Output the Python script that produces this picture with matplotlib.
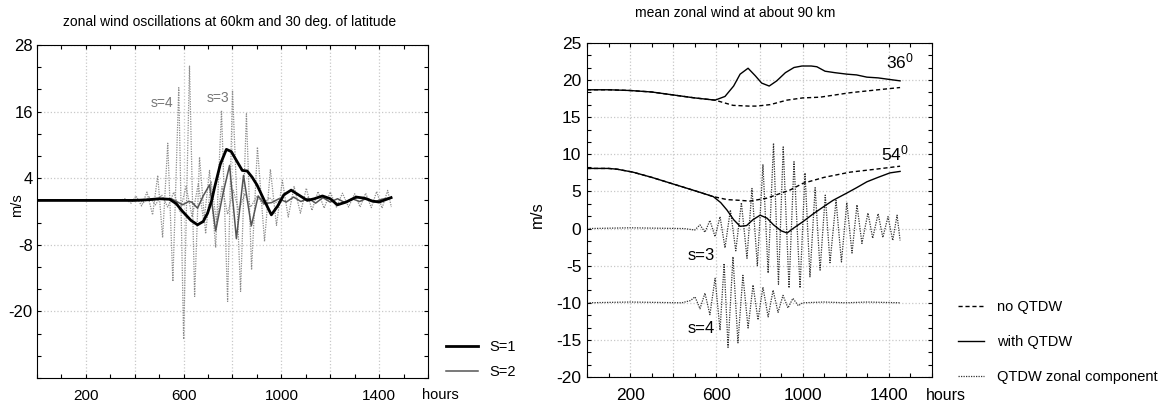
import numpy as np
import matplotlib.pyplot as plt
from matplotlib.ticker import MultipleLocator, FixedLocator, FixedFormatter
from matplotlib.lines import Line2D

# ---- left panel: zonal wind oscillations at 60 km, 30 deg (m/s vs hours)
s1_t = [0, 100, 200, 300, 400, 450, 500, 543, 570, 596, 630, 657, 680, 698, 715, 727,
        750, 775, 795, 816, 840, 860, 880, 900, 930, 959, 985, 1010, 1040, 1070, 1106,
        1135, 1168, 1200, 1229, 1265, 1306, 1340, 1370, 1400, 1449]
s1_v = [0, 0, 0, 0, 0, 0.1, 0.3, 0.2, -0.6, -2.0, -3.6, -4.4, -3.8, -2.3, 0, 2.4,
        6.5, 9.2, 8.8, 7.2, 5.4, 5.3, 4.2, 2.8, 0, -2.6, -1.0, 1.0, 1.85, 1.0, 0,
        0.3, 0.8, 0.3, -0.8, -0.3, 0.6, 0.4, -0.1, -0.3, 0.5]

s2_t = [0, 400, 500, 550, 596, 620, 633, 657, 680, 706, 731, 760, 788, 816, 845, 877,
        905, 930, 960, 990, 1020, 1050, 1080, 1110, 1140, 1170, 1200, 1230, 1260, 1290,
        1320, 1350, 1380, 1410, 1449]
s2_v = [0, 0, 0.2, 0.3, -0.8, -0.2, -0.3, -1.4, 0.8, 2.8, -5.5, 1.0, 6.3, -6.9, 4.5, -4.6,
        0.8, -0.6, -0.4, 0.3, -0.3, 0.6, -0.2, 0.4, -0.5, 0.5, -0.3, 0.3, -0.4, 0.3,
        -0.2, 0.4, -0.3, 0.2, 0.5]

s4_t = [0, 340, 360, 385, 405, 428, 450, 473, 494, 514, 535, 556, 580, 600, 624, 645,
        665, 690, 712, 735, 757, 780, 803, 826, 850, 875, 900, 925, 950, 975, 1000]
s4_v = [0, 0, 0.3, -0.5, 0.8, -1.0, 1.5, -2.6, 4.5, -6.7, 10.3, -14.6, 20.3, -25.0, 24.2, -17.3,
        7.8, -6.0, 3.5, -4.0, 2.5, -2.5, 1.8, -1.8, 1.2, -1.2, 0.8, -0.8, 0.5, -0.4, 0.0]

s3_t = [0, 380, 410, 435, 460, 485, 510, 535, 560, 585, 610, 635, 660, 683, 706, 731,
        755, 780, 800, 833, 857, 878, 902, 931, 955, 980, 1004, 1028, 1052, 1078, 1102,
        1125, 1150, 1175, 1200, 1225, 1250, 1275, 1300, 1322, 1345, 1368, 1390, 1412,
        1435, 1450]
s3_v = [0, 0, 0.3, -0.4, 0.6, -0.8, 1.0, -1.2, 1.5, -2.0, 2.5, -3.0, 3.0, -4.0, 5.4, -8.5,
        16.2, -18.2, 19.8, -16.4, 15.6, -12.5, 9.6, -7.4, 5.6, -4.5, 3.6, -3.0, 2.5, -2.3, 2.2,
        -1.8, 1.6, -1.4, 1.5, -1.2, 1.3, -1.2, 1.2, -1.2, 1.3, -1.3, 1.6, -1.4,
        1.8, -1.2]

# ---- right panel: mean zonal wind at about 90 km
w36_t = [0, 100, 200, 300, 400, 500, 594, 640, 680, 710, 747, 780, 810, 845, 880, 920,
         960, 997, 1040, 1066, 1104, 1150, 1206, 1250, 1298, 1350, 1400, 1452]
w36_v = [18.7, 18.7, 18.6, 18.4, 18.0, 17.6, 17.3, 17.8, 19.2, 20.8, 21.6, 20.6, 19.6, 19.2, 19.9, 21.0,
         21.7, 21.9, 21.9, 21.8, 21.2, 21.0, 20.8, 20.7, 20.4, 20.3, 20.1, 19.9]
n36_t = [0, 100, 200, 300, 400, 500, 594, 677, 750, 788, 850, 927, 1000, 1081, 1220, 1350, 1452]
n36_v = [18.7, 18.7, 18.6, 18.4, 18.0, 17.6, 17.3, 16.6, 16.5, 16.5, 16.7, 17.3, 17.6, 17.7, 18.3, 18.7, 19.0]

w54_t = [0, 100, 139, 213, 300, 400, 500, 586, 620, 649, 680, 710, 740, 770, 803, 835,
         865, 900, 928, 960, 1000, 1050, 1100, 1141, 1206, 1250, 1298, 1350, 1405, 1452]
w54_v = [8.1, 8.1, 8.0, 7.6, 6.9, 6.0, 5.1, 4.3, 3.5, 2.5, 1.2, 0.3, 0.4, 1.2, 1.8, 1.4,
         0.5, -0.3, -0.6, 0.1, 0.9, 2.0, 3.0, 3.8, 4.8, 5.5, 6.3, 6.9, 7.5, 7.7]
n54_t = [0, 100, 139, 213, 300, 400, 500, 586, 650, 710, 756, 835, 942, 1002, 1100, 1220, 1340, 1452]
n54_v = [8.1, 8.1, 8.0, 7.6, 6.9, 6.0, 5.1, 4.3, 3.9, 3.8, 3.7, 4.1, 5.2, 6.1, 6.9, 7.6, 8.0, 8.4]

q3_t = [0, 200, 450, 500, 524, 547, 570, 594, 617, 640, 665, 690, 716, 742, 765, 790,
        816, 840, 865, 888, 910, 937, 960, 988, 1011, 1034, 1058, 1081, 1105, 1127, 1155,
        1180, 1205, 1229, 1252, 1275, 1303, 1325, 1350, 1372, 1396, 1418, 1438, 1452]
q3_v = [0, 0.1, 0, -0.2, 0.5, -0.5, 1.1, -1.1, 1.6, -2.6, 2.5, -3.0, 3.5, -4.0, 5.4, -5.0,
        8.6, -6.0, 11.5, -7.5, 11.0, -8.0, 9.0, -8.0, 7.5, -6.5, 5.5, -5.6, 4.5, -4.6, 3.8,
        -4.5, 3.5, -3.3, 3.2, -2.0, 2.1, -1.3, 2.0, -1.2, 1.6, -1.6, 1.8, -1.6]

q4_t = [0, 200, 440, 480, 501, 524, 547, 570, 594, 617, 636, 654, 677, 700, 723, 747,
        770, 793, 816, 840, 863, 886, 909, 932, 955, 980, 1000, 1100, 1200, 1300, 1452]
q4_v = [-10, -9.9, -10, -9.7, -9.2, -10.8, -8.7, -11.6, -6.7, -13.7, -4.7, -16.0, -3.8, -15.4, -6.3, -13.4,
        -7.6, -12.3, -7.9, -11.9, -8.3, -11.3, -9.0, -10.7, -9.4, -10.4, -10.0, -9.9, -10.0, -9.9, -10.0]

xlabels = ['200', '', '600', '', '1000', '', '1400']

plt.rcParams['font.family'] = ['Liberation Sans', 'DejaVu Sans']
plt.rcParams['axes.unicode_minus'] = False

fig = plt.figure(figsize=(11.68, 4.07), dpi=100)
ax1 = fig.add_axes([37 / 1168, 1 - 378 / 407, 391 / 1168, 333 / 407])
ax2 = fig.add_axes([587 / 1168, 1 - 377 / 407, 345 / 1168, 334 / 407])

grid_kw = dict(color='#c8c8c8', linestyle=':', linewidth=0.9)

# left panel
ax1.plot(s4_t, s4_v, color='#8c8c8c', linestyle=(0, (1, 1)), linewidth=0.9)
ax1.plot(s3_t, s3_v, color='#8c8c8c', linestyle=(0, (1, 1)), linewidth=0.9)
ax1.plot(s2_t, s2_v, color='#555555', linewidth=1.1)
ax1.plot(s1_t, s1_v, color='black', linewidth=2.0)
ax1.set_xlim(0, 1600)
ax1.set_ylim(-32, 28)
ax1.xaxis.set_major_locator(FixedLocator(range(200, 1401, 200)))
ax1.xaxis.set_major_formatter(FixedFormatter(xlabels))
ax1.xaxis.set_minor_locator(MultipleLocator(100))
ax1.yaxis.set_major_locator(FixedLocator([-20, -8, 4, 16, 28]))
ax1.yaxis.set_minor_locator(MultipleLocator(4))
ax1.grid(True, **grid_kw)
ax1.tick_params(which='both', direction='in', top=True, right=True, length=3, width=0.8)
ax1.tick_params(axis='x', pad=8, labelsize=11)
ax1.tick_params(axis='y', pad=3, labelsize=12)
ax1.text(510, 17.5, 's=4', color='#777777', fontsize=10, ha='center', va='center')
ax1.text(740, 18.4, 's=3', color='#777777', fontsize=10, ha='center', va='center')
fig.text(17 / 1168, 1 - 205 / 407, 'm/s', rotation=90, ha='center', va='center', fontsize=10.5)
fig.text(230 / 1168, 1 - 22 / 407, 'zonal wind oscillations at 60km and 30 deg. of latitude',
         ha='center', va='center', fontsize=10)
fig.text(440 / 1168, 1 - 395 / 407, 'hours', ha='center', va='center', fontsize=10.5)
leg1 = fig.legend([Line2D([], [], color='black', linewidth=2.0),
                   Line2D([], [], color='#555555', linewidth=1.1)],
                  ['S=1', 'S=2'], loc='upper left', bbox_to_anchor=(440 / 1168, 1 - 334 / 407),
                  frameon=False, fontsize=10.5, handlelength=2.2, handletextpad=0.8,
                  labelspacing=0.8, borderaxespad=0)

# right panel
ax2.plot(q3_t, q3_v, color='#333333', linestyle=(0, (1, 1)), linewidth=0.9)
ax2.plot(q4_t, q4_v, color='#333333', linestyle=(0, (1, 1)), linewidth=0.9)
ax2.plot(n36_t, n36_v, color='black', linestyle=(0, (3, 2)), linewidth=1.0)
ax2.plot(n54_t, n54_v, color='black', linestyle=(0, (3, 2)), linewidth=1.0)
ax2.plot(w36_t, w36_v, color='black', linewidth=1.0)
ax2.plot(w54_t, w54_v, color='black', linewidth=1.0)
ax2.set_xlim(0, 1600)
ax2.set_ylim(-20, 25)
ax2.xaxis.set_major_locator(FixedLocator(range(200, 1401, 200)))
ax2.xaxis.set_major_formatter(FixedFormatter(xlabels))
ax2.xaxis.set_minor_locator(MultipleLocator(100))
ax2.yaxis.set_major_locator(MultipleLocator(5))
ax2.yaxis.set_minor_locator(MultipleLocator(5 / 3))
ax2.grid(True, **grid_kw)
ax2.tick_params(which='both', direction='in', top=True, right=True, length=3, width=0.8)
ax2.tick_params(axis='both', labelsize=12.5)
ax2.tick_params(axis='x', pad=8)
ax2.tick_params(axis='y', pad=4)
fig.text(537 / 1168, 1 - 215 / 407, 'm/s', rotation=90, ha='center', va='center', fontsize=12)
ax2.text(530, -3.6, 's=3', fontsize=12, ha='center', va='center')
ax2.text(530, -13.4, 's=4', fontsize=12, ha='center', va='center')
ax2.text(1452, 22.5, '$\\mathregular{36^0}$', fontsize=12.5, ha='center', va='center')
ax2.text(1430, 10.1, '$\\mathregular{54^0}$', fontsize=12.5, ha='center', va='center')
fig.text(735 / 1168, 1 - 13 / 407, 'mean zonal wind at about 90 km', ha='center', va='center',
         fontsize=10)
fig.text(946 / 1168, 1 - 395 / 407, 'hours', ha='center', va='center', fontsize=11.5)
leg2 = fig.legend([Line2D([], [], color='black', linestyle=(0, (3, 2)), linewidth=1.0),
                   Line2D([], [], color='black', linewidth=1.0),
                   Line2D([], [], color='#333333', linestyle=(0, (1, 1)), linewidth=0.9)],
                  ['no QTDW', 'with QTDW', 'QTDW zonal component'], loc='upper left',
                  bbox_to_anchor=(952 / 1168, 1 - 294 / 407), frameon=False,
                  fontsize=10.5, handlelength=1.8, handletextpad=0.9, labelspacing=1.45,
                  borderaxespad=0)

fig.savefig('out.png', dpi=100)
